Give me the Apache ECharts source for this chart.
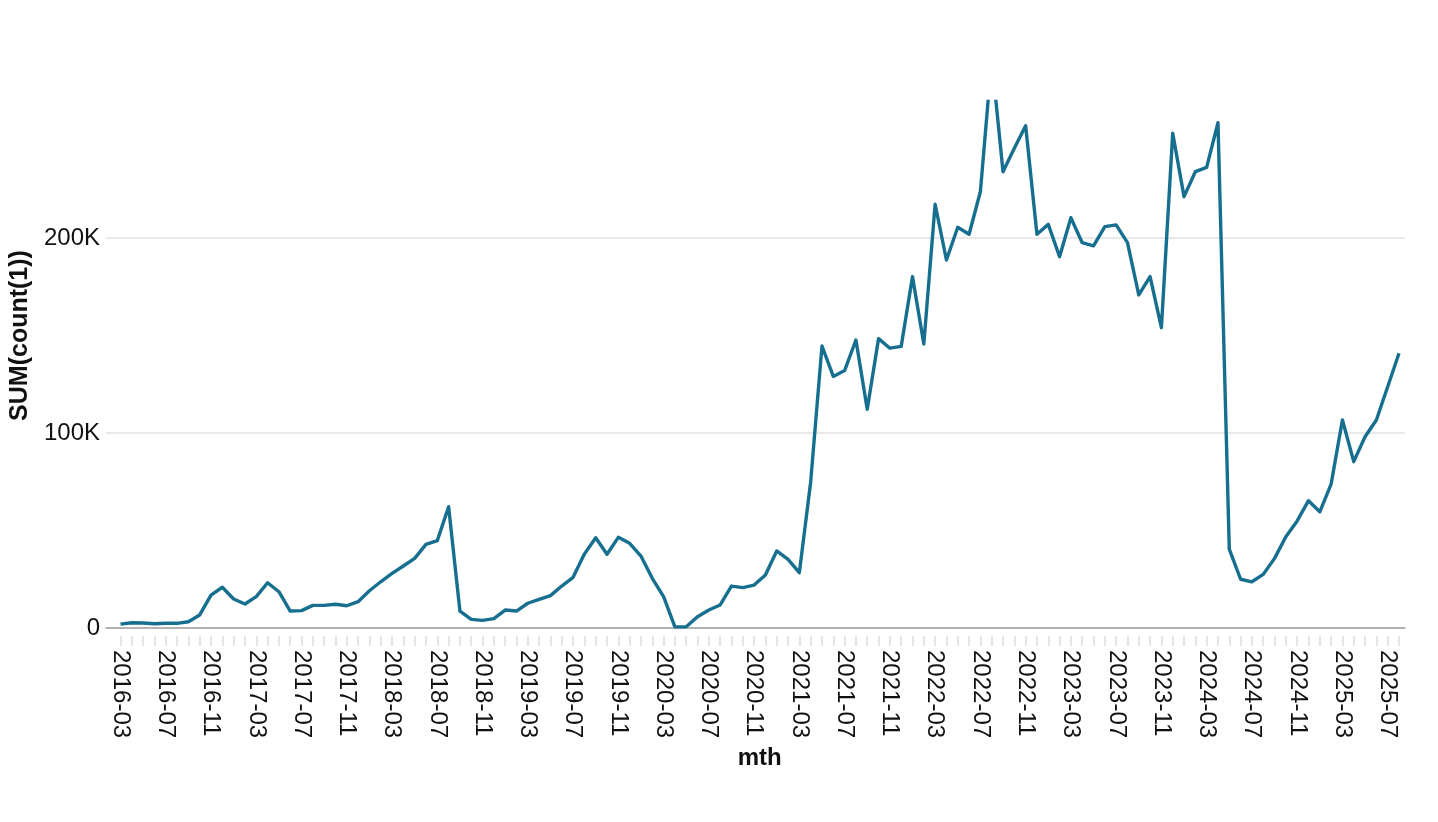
<!DOCTYPE html>
<html>
<head>
<meta charset="utf-8">
<script src="https://cdn.jsdelivr.net/npm/echarts@6/dist/echarts.min.js"></script>
<style>
html, body { margin: 0; padding: 0; background: #fff; }
#main { width: 1438px; height: 822px; }
</style>
</head>
<body>
<div id="main"></div>
<script>
var months = [
    '2016-03', '2016-04', '2016-05', '2016-06', '2016-07', '2016-08', '2016-09', '2016-10', '2016-11', '2016-12',
    '2017-01', '2017-02', '2017-03', '2017-04', '2017-05', '2017-06', '2017-07', '2017-08', '2017-09', '2017-10', '2017-11', '2017-12',
    '2018-01', '2018-02', '2018-03', '2018-04', '2018-05', '2018-06', '2018-07', '2018-08', '2018-09', '2018-10', '2018-11', '2018-12',
    '2019-01', '2019-02', '2019-03', '2019-04', '2019-05', '2019-06', '2019-07', '2019-08', '2019-09', '2019-10', '2019-11', '2019-12',
    '2020-01', '2020-02', '2020-03', '2020-04', '2020-05', '2020-06', '2020-07', '2020-08', '2020-09', '2020-10', '2020-11', '2020-12',
    '2021-01', '2021-02', '2021-03', '2021-04', '2021-05', '2021-06', '2021-07', '2021-08', '2021-09', '2021-10', '2021-11', '2021-12',
    '2022-01', '2022-02', '2022-03', '2022-04', '2022-05', '2022-06', '2022-07', '2022-08', '2022-09', '2022-10', '2022-11', '2022-12',
    '2023-01', '2023-02', '2023-03', '2023-04', '2023-05', '2023-06', '2023-07', '2023-08', '2023-09', '2023-10', '2023-11', '2023-12',
    '2024-01', '2024-02', '2024-03', '2024-04', '2024-05', '2024-06', '2024-07', '2024-08', '2024-09', '2024-10', '2024-11', '2024-12',
    '2025-01', '2025-02', '2025-03', '2025-04', '2025-05', '2025-06', '2025-07', '2025-08'
];

// SUM(count(1)) per month
var counts = [
    2000, 2700, 2600, 2200, 2400, 2400, 3200, 6700, 16900, 20900,
    14900, 12300, 16100, 23200, 18600, 8700, 8900, 11600, 11600, 12200, 11400, 13500,
    19100, 23700, 28000, 31800, 35700, 42900, 44800, 62200, 8700, 4400, 3900, 4800,
    9200, 8700, 12700, 14700, 16600, 21500, 26000, 37900, 46300, 37800, 46500, 43400,
    36900, 25500, 16100, 600, 600, 5800, 9200, 11800, 21500, 20700, 22000, 27200,
    39500, 35200, 28400, 74900, 144600, 129000, 132000, 147700, 112200, 148400, 143500, 144400,
    180200, 145600, 217300, 188700, 205500, 201900, 223700, 292000, 234000, 246000, 257600, 201900,
    207000, 190400, 210400, 197600, 196000, 205800, 206700, 197600, 170800, 180200, 154000, 253700,
    221200, 234000, 236200, 259100, 40400, 25000, 23700, 27500, 35700, 46800, 54900, 65300,
    59600, 73800, 106700, 85300, 98100, 106700, 123700, 140900
];

var yAxisTop = 300000;   // nice top of the y scale (axis title centred on it)
var yClip = 270000;      // visible top, the line is cut here
var yStep = 100000;

var font = 'Liberation Sans, Arial, Helvetica, sans-serif';

var myChart = echarts.init(document.getElementById('main'));

myChart.setOption({
    animation: false,
    backgroundColor: '#fff',
    grid: [
        // axis line + y gridlines
        { left: 106, right: 33, top: 43, bottom: 194, outerBoundsMode: 'none' },
        // the line itself
        { left: 120.5, right: 39, top: 101.5, bottom: 194, outerBoundsMode: 'none' },
        // x ticks and labels, set a little below the axis line
        { left: 120.5, right: 39, top: 101.5, bottom: 186, outerBoundsMode: 'none' }
    ],
    xAxis: [{
        gridIndex: 0,
        type: 'category',
        data: months,
        boundaryGap: false,
        axisLine: { show: true, lineStyle: { color: '#9a9a9a', width: 1.5 } },
        axisTick: { show: false },
        axisLabel: { show: false },
        splitLine: { show: false }
    }, {
        gridIndex: 1,
        type: 'category',
        data: months,
        boundaryGap: false,
        show: false
    }, {
        gridIndex: 2,
        type: 'category',
        data: months,
        boundaryGap: false,
        axisLine: { show: false },
        axisTick: {
            show: true,
            interval: 0,
            length: 10,
            lineStyle: { color: '#dcdcdc', width: 1.5 }
        },
        axisLabel: {
            interval: 3,
            rotate: -90,
            margin: 14,
            fontSize: 24,
            fontFamily: font,
            color: '#111'
        },
        splitLine: { show: false },
        name: 'mth',
        nameLocation: 'middle',
        nameGap: 110,
        nameTextStyle: { fontSize: 24, fontWeight: 'bold', fontFamily: font, color: '#111' }
    }],
    yAxis: [{
        gridIndex: 0,
        type: 'value',
        min: 0,
        max: yAxisTop,
        interval: yStep,
        axisLine: { show: false },
        axisTick: { show: false },
        axisLabel: {
            margin: 6,
            fontSize: 24,
            fontFamily: font,
            color: '#111',
            showMaxLabel: false,
            formatter: function (v) {
                return v === 0 ? '0' : (v / 1000) + 'K';
            }
        },
        splitLine: {
            show: true,
            showMinLine: false,
            showMaxLine: false,
            lineStyle: { color: '#e2e2e2', width: 1.5 }
        },
        name: 'SUM(count(1))',
        nameLocation: 'middle',
        nameRotate: 90,
        nameGap: 68,
        nameTextStyle: { fontSize: 25, fontWeight: 'bold', fontFamily: font, color: '#111' }
    }, {
        gridIndex: 1,
        type: 'value',
        min: 0,
        max: yClip,
        show: false
    }, {
        gridIndex: 2,
        type: 'value',
        show: false
    }],
    series: [{
        type: 'line',
        xAxisIndex: 1,
        yAxisIndex: 1,
        data: counts,
        showSymbol: false,
        symbol: 'none',
        clip: true,
        lineStyle: { color: '#176f8f', width: 3.4, join: 'round' },
        itemStyle: { color: '#176f8f' },
        z: 5
    }]
});
</script>
</body>
</html>
